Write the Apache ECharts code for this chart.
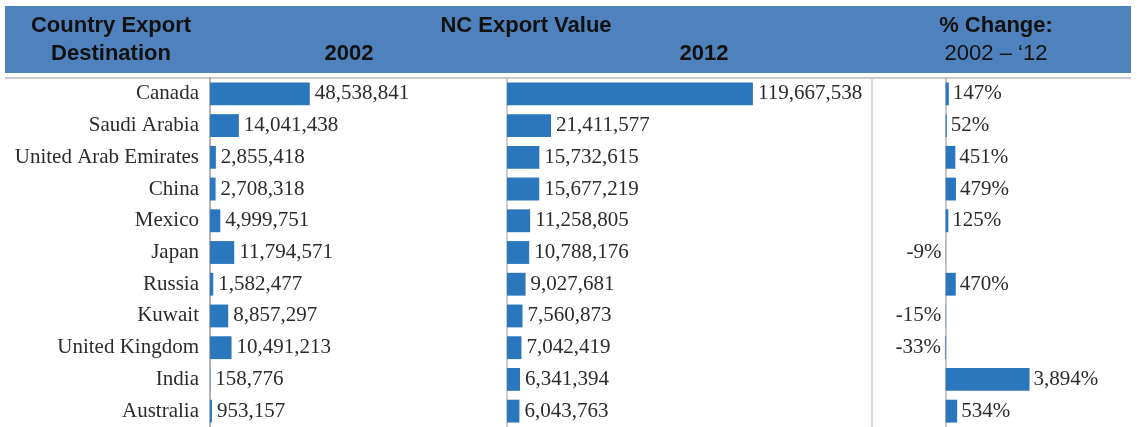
<!DOCTYPE html>
<html>
<head>
<meta charset="utf-8">
<title>NC Export Value by Country</title>
<script src="https://cdn.jsdelivr.net/npm/echarts@6/dist/echarts.min.js"></script>
<style>
  html, body { margin: 0; padding: 0; background: #ffffff; }
  #chart { width: 1140px; height: 427px; }
</style>
</head>
<body>
<div id="chart"></div>
<script>
// Export destinations, in table order
const countries = [
  'Canada', 'Saudi Arabia', 'United Arab Emirates', 'China', 'Mexico',
  'Japan', 'Russia', 'Kuwait', 'United Kingdom', 'India', 'Australia'
];

// NC export value, US dollars
const exports2002 = [
  48538841, 14041438, 2855418, 2708318, 4999751,
  11794571, 1582477, 8857297, 10491213, 158776, 953157
];
const exports2012 = [
  119667538, 21411577, 15732615, 15677219, 11258805,
  10788176, 9027681, 7560873, 7042419, 6341394, 6043763
];

// Percent change 2002 - 2012
const pctChange = [147, 52, 451, 479, 125, -9, 470, -15, -33, 3894, 534];

// Header texts
const headerLine1 = ['Country Export', 'NC Export Value', '% Change:'];
const headerLine2 = ['Destination', '2002', '2012', '2002 \u2013 \u201812'];

const BAR = '#2a77bd';
const HEAD_BG = '#4f81bd';
const SERIF = '"Liberation Serif", "DejaVu Serif", serif';
const SANS = '"Liberation Sans", Arial, sans-serif';

// Both dollar panels share one scale (pixels per dollar)
const pxPerDollar = 2.055 / 1e6;
const gridTop = 78, gridHeight = 350;
const g2002 = { left: 210, width: 290 };
const g2012 = { left: 507, width: 365 };
const gPct = { left: 881, width: 237 };

const fmt = v => Number(v).toLocaleString('en-US');

const valueLabel = {
  show: true, position: 'right', distance: 5,
  fontFamily: SERIF, fontSize: 21, color: '#2b2b2b',
};

function grid(g) {
  return { left: g.left, width: g.width, top: gridTop, height: gridHeight, containLabel: false };
}
function yCat(idx, showLabels, lineColor) {
  return {
    type: 'category', gridIndex: idx, data: countries, inverse: true,
    axisTick: { show: false },
    axisLine: { show: true, lineStyle: { color: lineColor, width: 1.5 } },
    axisLabel: {
      show: showLabels, margin: 11,
      fontFamily: SERIF, fontSize: 21, color: '#2b2b2b'
    },
    splitLine: { show: false }
  };
}
function xVal(idx, min, max) {
  return {
    type: 'value', gridIndex: idx, min: min, max: max, show: false,
    splitLine: { show: false }
  };
}

const chart = echarts.init(document.getElementById('chart'), null, { renderer: 'canvas' });

chart.setOption({
  animation: false,
  backgroundColor: '#ffffff',
  grid: [grid(g2002), grid(g2012), grid(gPct)],
  xAxis: [
    xVal(0, 0, g2002.width / pxPerDollar),
    xVal(1, 0, g2012.width / pxPerDollar),
    xVal(2, -3000, 8000)
  ],
  yAxis: [
    yCat(0, true, '#9a9a9a'),
    yCat(1, false, '#bdbdbd'),
    yCat(2, false, '#b5b5b5')
  ],
  series: [
    {
      type: 'bar', xAxisIndex: 0, yAxisIndex: 0, data: exports2002,
      barCategoryGap: '28%', itemStyle: { color: BAR },
      label: Object.assign({}, valueLabel, { formatter: p => fmt(p.value) })
    },
    {
      type: 'bar', xAxisIndex: 1, yAxisIndex: 1, data: exports2012,
      barCategoryGap: '28%', itemStyle: { color: BAR },
      label: Object.assign({}, valueLabel, { formatter: p => fmt(p.value) })
    },
    {
      type: 'bar', xAxisIndex: 2, yAxisIndex: 2,
      data: pctChange.map(v => ({ value: v, label: { position: v < 0 ? 'left' : 'right' } })),
      barCategoryGap: '28%', itemStyle: { color: BAR },
      label: Object.assign({}, valueLabel, { distance: 4, formatter: p => fmt(p.value) + '%' })
    }
  ],
  graphic: [
    // header band
    { type: 'rect', shape: { x: 5, y: 6, width: 1126, height: 67 }, style: { fill: HEAD_BG }, z: 0 },
    // rule under the header
    { type: 'line', shape: { x1: 5, y1: 78, x2: 1131, y2: 78 }, style: { stroke: '#c9c9c9', lineWidth: 2 } },
    // divider between the value and % panels
    { type: 'line', shape: { x1: 872, y1: 78, x2: 872, y2: 427 }, style: { stroke: '#cfcfcf', lineWidth: 1.5 } },
    // header texts
    { type: 'text', x: 111, y: 26, style: { text: headerLine1[0], font: 'bold 22px ' + SANS, fill: '#111', align: 'center', verticalAlign: 'middle' } },
    { type: 'text', x: 526, y: 26, style: { text: headerLine1[1], font: 'bold 22px ' + SANS, fill: '#111', align: 'center', verticalAlign: 'middle' } },
    { type: 'text', x: 996, y: 26, style: { text: headerLine1[2], font: 'bold 22px ' + SANS, fill: '#111', align: 'center', verticalAlign: 'middle' } },
    { type: 'text', x: 111, y: 54, style: { text: headerLine2[0], font: 'bold 22px ' + SANS, fill: '#111', align: 'center', verticalAlign: 'middle' } },
    { type: 'text', x: 349, y: 54, style: { text: headerLine2[1], font: 'bold 22px ' + SANS, fill: '#111', align: 'center', verticalAlign: 'middle' } },
    { type: 'text', x: 704, y: 54, style: { text: headerLine2[2], font: 'bold 22px ' + SANS, fill: '#111', align: 'center', verticalAlign: 'middle' } },
    { type: 'text', x: 996, y: 54, style: { text: headerLine2[3], font: '22px ' + SANS, fill: '#111', align: 'center', verticalAlign: 'middle' } }
  ]
});
</script>
</body>
</html>
